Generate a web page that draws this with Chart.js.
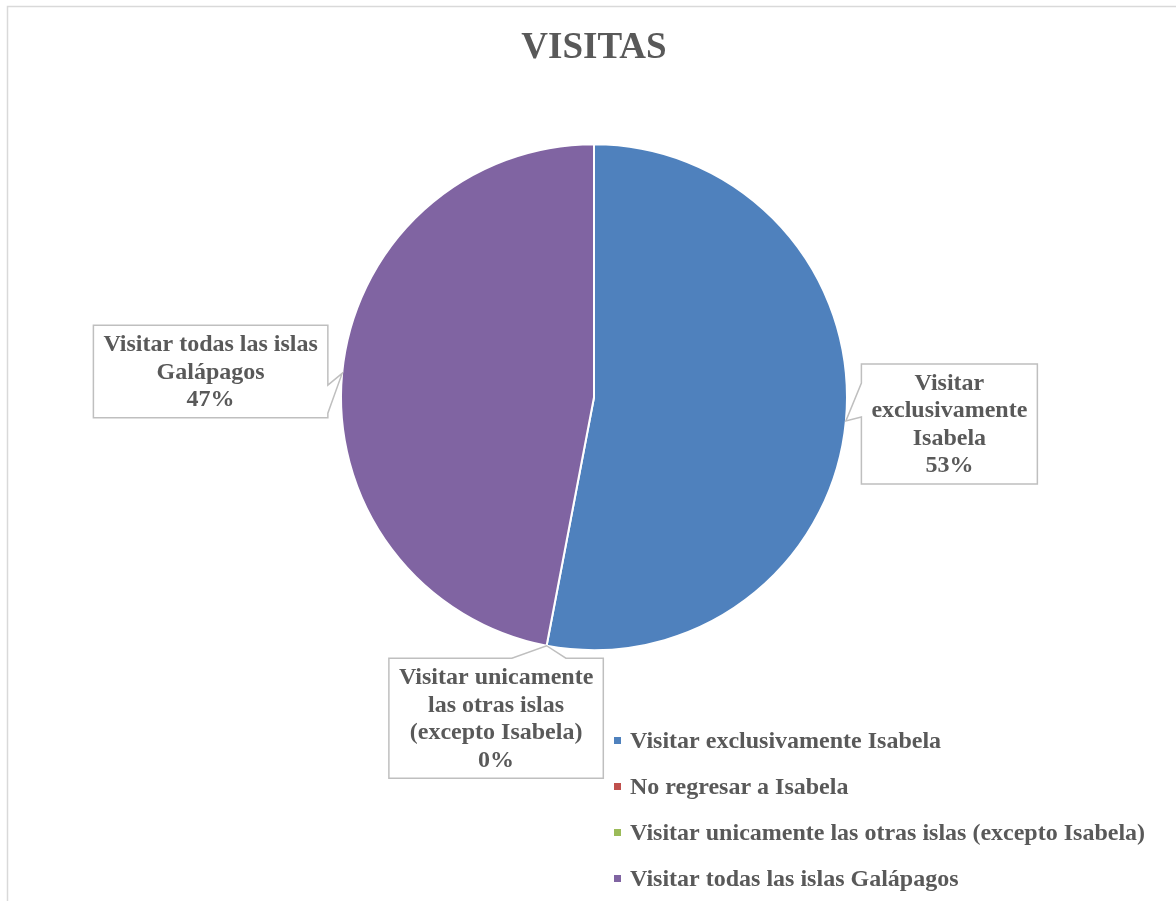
<!DOCTYPE html>
<html>
<head>
<meta charset="utf-8">
<script src="https://cdn.jsdelivr.net/npm/chart.js@4.4.1/dist/chart.umd.min.js"></script>
<style>
  html, body { margin: 0; padding: 0; background: #ffffff; }
  canvas { display: block; }
</style>
</head>
<body>
<canvas id="myChart" width="1176" height="901"></canvas>
<script>
// categories and values
const categories = [
  'Visitar exclusivamente Isabela',
  'No regresar a Isabela',
  'Visitar unicamente las otras islas (excepto Isabela)',
  'Visitar todas las islas Galápagos'
];
const percents = [53, 0, 0, 47];
// wrapped text of the callouts (null = no label shown)
const calloutLines = [
  ['Visitar', 'exclusivamente', 'Isabela'],
  null,
  ['Visitar unicamente', 'las otras islas', '(excepto Isabela)'],
  ['Visitar todas las islas', 'Galápagos']
];
const colors = ['#4F81BD', '#C0504D', '#9BBB59', '#8064A2'];

const textColor = '#595959';
const serif = '"Liberation Serif", "Times New Roman", serif';

// callout box placement relative to the anchor point on the slice edge
const calloutStyle = {
  0: { dx: 103.5, dy: 3, side: 'left', base: [19, 53] },
  2: { dx: -50.5, dy: 72.5, side: 'top', base: [123, 177] },
  3: { dx: -131.5, dy: -2, side: 'right', base: [60, 88] }
};

const framePlugin = {
  id: 'frame',
  beforeDraw(chart) {
    const c = chart.ctx;
    c.save();
    c.fillStyle = '#fff';
    c.fillRect(0, 0, chart.width, chart.height);
    c.strokeStyle = '#d9d9d9';
    c.lineWidth = 1.5;
    c.strokeRect(7.5, 6.5, chart.width + 10, chart.height + 10);
    c.restore();
  }
};

const calloutPlugin = {
  id: 'callouts',
  afterDatasetsDraw(chart) {
    const c = chart.ctx;
    const meta = chart.getDatasetMeta(0);
    const lh = 27.5, padH = 10, padV = 5;
    c.save();
    c.font = 'bold 24px ' + serif;
    meta.data.forEach((arc, i) => {
      const lines = calloutLines[i];
      const st = calloutStyle[i];
      if (!lines || !st) return;
      const p = arc.getProps(['x', 'y', 'startAngle', 'endAngle', 'outerRadius'], true);
      const mid = (p.startAngle + p.endAngle) / 2;
      const tip = { x: p.x + Math.cos(mid) * p.outerRadius, y: p.y + Math.sin(mid) * p.outerRadius };
      const all = lines.concat([percents[i] + '%']);
      const w = Math.max(...all.map(s => c.measureText(s).width)) + padH * 2;
      const h = all.length * lh + padV * 2;
      const cx = tip.x + st.dx, cy = tip.y + st.dy;
      const l = cx - w / 2, t = cy - h / 2, r = cx + w / 2, b = cy + h / 2;

      c.beginPath();
      c.moveTo(l, t);
      if (st.side === 'top') { c.lineTo(l + st.base[0], t); c.lineTo(tip.x, tip.y); c.lineTo(l + st.base[1], t); }
      c.lineTo(r, t);
      if (st.side === 'right') { c.lineTo(r, t + st.base[0]); c.lineTo(tip.x, tip.y); c.lineTo(r, t + st.base[1]); }
      c.lineTo(r, b);
      c.lineTo(l, b);
      if (st.side === 'left') { c.lineTo(l, t + st.base[1]); c.lineTo(tip.x, tip.y); c.lineTo(l, t + st.base[0]); }
      c.closePath();
      c.fillStyle = '#fff';
      c.fill();
      c.strokeStyle = '#bfbfbf';
      c.lineWidth = 1.5;
      c.stroke();

      c.fillStyle = textColor;
      c.textAlign = 'center';
      c.textBaseline = 'middle';
      all.forEach((s, k) => c.fillText(s, cx, t + padV + lh / 2 + k * lh + 1));
    });
    c.restore();
  }
};

const legendPlugin = {
  id: 'sideLegend',
  afterDraw(chart) {
    const c = chart.ctx;
    const x = 614, y0 = 741, step = 46;
    c.save();
    c.font = 'bold 24px ' + serif;
    c.textBaseline = 'middle';
    c.textAlign = 'left';
    categories.forEach((name, i) => {
      const y = y0 + i * step;
      c.fillStyle = colors[i];
      c.fillRect(x, y - 4, 7, 7);
      c.fillStyle = textColor;
      c.fillText(name, x + 16, y + 1);
    });
    c.restore();
  }
};

var ctx = document.getElementById('myChart').getContext('2d');

var myChart = new Chart(ctx, {
  type: 'pie',
  data: {
    labels: categories,
    datasets: [{
      data: percents,
      backgroundColor: colors,
      borderColor: '#ffffff',
      borderWidth: 2
    }]
  },
  options: {
    responsive: false,
    animation: false,
    devicePixelRatio: 1,
    radius: 253,
    layout: { padding: { left: 12, right: 0, top: 0, bottom: 247 } },
    plugins: {
      legend: { display: false },
      tooltip: { enabled: false },
      title: {
        display: true,
        text: 'VISITAS',
        color: textColor,
        font: { family: serif, size: 37, weight: 'bold' },
        padding: { top: 26, bottom: 70 }
      }
    }
  },
  plugins: [framePlugin, calloutPlugin, legendPlugin]
});
</script>
</body>
</html>
